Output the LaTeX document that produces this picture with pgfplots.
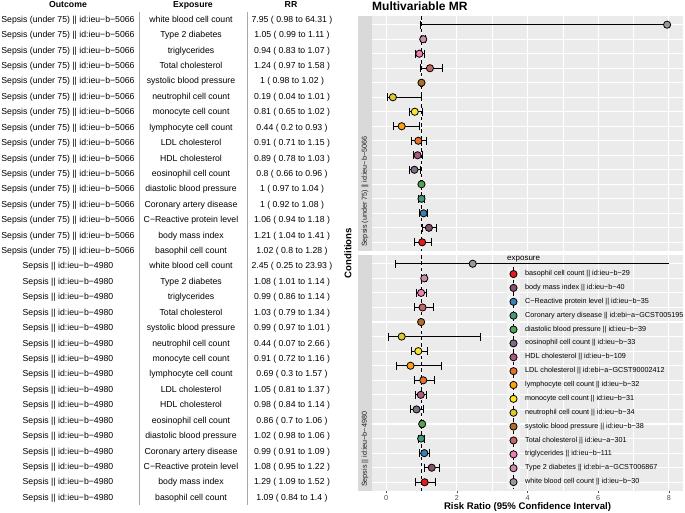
\documentclass[border=0pt]{standalone}
\usepackage{pgfplots}
\pgfplotsset{compat=1.18}
\usepackage{pgfplotstable}
\usepackage{fontspec}
\setmainfont{Liberation Sans}

\definecolor{panelbg}{HTML}{EBEBEB}
\definecolor{stripbg}{HTML}{D9D9D9}
\definecolor{keybg}{HTML}{F2F2F2}
\definecolor{gray30}{HTML}{4D4D4D}
\definecolor{gray10}{HTML}{1A1A1A}
\definecolor{sepgray}{HTML}{A8A8A8}

% row 0 = top of facet; c = colour index (legend order)
\pgfplotstableread{
row rr lo hi c
0 7.95 0.98 64.31 15
1 1.05 0.99 1.11 14
2 0.94 0.83 1.07 13
3 1.24 0.97 1.58 12
4 1.00 0.98 1.02 11
5 0.19 0.04 1.01 10
6 0.81 0.65 1.02 9
7 0.44 0.20 0.93 8
8 0.91 0.71 1.15 7
9 0.89 0.78 1.03 6
10 0.80 0.66 0.96 5
11 1.00 0.97 1.04 4
12 1.00 0.92 1.08 3
13 1.06 0.94 1.18 2
14 1.21 1.04 1.41 1
15 1.02 0.80 1.28 0
}\underS

\pgfplotstableread{
row rr lo hi c
0 2.45 0.25 23.93 15
1 1.08 1.01 1.14 14
2 0.99 0.86 1.14 13
3 1.03 0.79 1.34 12
4 0.99 0.97 1.01 11
5 0.44 0.07 2.66 10
6 0.91 0.72 1.16 9
7 0.69 0.30 1.57 8
8 1.05 0.81 1.37 7
9 0.98 0.84 1.14 6
10 0.86 0.70 1.06 5
11 1.02 0.98 1.06 4
12 0.99 0.91 1.09 3
13 1.08 0.95 1.22 2
14 1.29 1.09 1.52 1
15 1.09 0.84 1.40 0
}\allS

\pgfplotstableread{
row c
0 0
1 1
2 2
3 3
4 4
5 5
6 6
7 7
8 8
9 9
10 10
11 11
12 12
13 13
14 14
15 15
}\keys

\pgfplotsset{
  mrcolors/.style={
    colormap={mr}{rgb255=(228,26,28) rgb255=(136,79,111) rgb255=(56,129,177)
      rgb255=(68,155,118) rgb255=(87,162,86) rgb255=(127,110,133)
      rgb255=(173,88,130) rgb255=(228,114,43) rgb255=(255,161,14)
      rgb255=(255,229,41) rgb255=(225,199,47) rgb255=(178,109,41)
      rgb255=(198,103,100) rgb255=(242,126,181) rgb255=(203,140,173)
      rgb255=(153,153,153)},
    point meta min=0, point meta max=15,
  },
  facet/.style={
    scale only axis, width=311pt,
    xmin=-0.4, xmax=8.4, ymin=-0.6, ymax=15.6, y dir=reverse,
    axis background/.style={fill=panelbg},
    axis line style={draw=none},
    xtick={0,2,4,6,8}, minor xtick={1,3,5,7},
    ytick={0,...,15}, yticklabels={},
    grid=both,
    major grid style={white, line width=1.1pt},
    minor grid style={white, line width=0.55pt},
    y tick style={draw=none}, minor tick length=0pt,
    mrcolors,
  },
  ebars/.style={black, only marks, mark=none,
    error bars/.cd, x dir=both, x explicit,
    error bar style={black, line width=0.8pt},
    error mark=none,
    /pgfplots/.cd},
  caps/.style={black, only marks, mark=|, mark size=4pt,
    mark options={line width=0.8pt}},
  dots/.style={scatter, only marks, mark=*, point meta=explicit,
    mark size=3.6pt, mark options={line width=0.8pt},
    scatter/use mapped color={draw=black, fill=mapped color}},
  vdash/.style={black, line width=0.8pt, dash pattern=on 3.5pt off 2.8pt},
}

\tikzset{
  tbl/.style={font=\fontsize{8.7}{10}\selectfont, inner sep=0pt, text height=6.3pt, text depth=1.8pt},
  hdr/.style={tbl, font=\fontsize{8.7}{10}\selectfont\bfseries},
}

\begin{document}
\begin{tikzpicture}
\path[use as bounding box] (0,0) rectangle (685pt,-512pt);

% ---- left table ----
\node[hdr] at (68pt,-5.5pt) {Outcome};
\node[hdr] at (193pt,-5.5pt) {Exposure};
\node[hdr] at (291pt,-5.5pt) {RR};
\draw[sepgray, line width=0.8pt] (139pt,-12pt) -- (139pt,-505pt);
\draw[sepgray, line width=0.8pt] (247pt,-12pt) -- (247pt,-505pt);

\foreach \e/\r [count=\i from 0] in {
  white blood cell count/7.95 ( 0.98 to 64.31 ),
  Type 2 diabetes/1.05 ( 0.99 to 1.11 ),
  triglycerides/0.94 ( 0.83 to 1.07 ),
  Total cholesterol/1.24 ( 0.97 to 1.58 ),
  systolic blood pressure/1 ( 0.98 to 1.02 ),
  neutrophil cell count/0.19 ( 0.04 to 1.01 ),
  monocyte cell count/0.81 ( 0.65 to 1.02 ),
  lymphocyte cell count/0.44 ( 0.2 to 0.93 ),
  LDL cholesterol/0.91 ( 0.71 to 1.15 ),
  HDL cholesterol/0.89 ( 0.78 to 1.03 ),
  eosinophil cell count/0.8 ( 0.66 to 0.96 ),
  diastolic blood pressure/1 ( 0.97 to 1.04 ),
  Coronary artery disease/1 ( 0.92 to 1.08 ),
  C−Reactive protein level/1.06 ( 0.94 to 1.18 ),
  body mass index/1.21 ( 1.04 to 1.41 ),
  basophil cell count/1.02 ( 0.8 to 1.28 )} {
  \pgfmathsetmacro\yy{-(20+15.42*\i)}
  \node[tbl] at (68pt,\yy pt) {Sepsis (under 75) || id:ieu−b−5066};
  \node[tbl] at (191pt,\yy pt) {\e};
  \node[tbl] at (292pt,\yy pt) {\r};
}
\foreach \e/\r [count=\i from 16] in {
  white blood cell count/2.45 ( 0.25 to 23.93 ),
  Type 2 diabetes/1.08 ( 1.01 to 1.14 ),
  triglycerides/0.99 ( 0.86 to 1.14 ),
  Total cholesterol/1.03 ( 0.79 to 1.34 ),
  systolic blood pressure/0.99 ( 0.97 to 1.01 ),
  neutrophil cell count/0.44 ( 0.07 to 2.66 ),
  monocyte cell count/0.91 ( 0.72 to 1.16 ),
  lymphocyte cell count/0.69 ( 0.3 to 1.57 ),
  LDL cholesterol/1.05 ( 0.81 to 1.37 ),
  HDL cholesterol/0.98 ( 0.84 to 1.14 ),
  eosinophil cell count/0.86 ( 0.7 to 1.06 ),
  diastolic blood pressure/1.02 ( 0.98 to 1.06 ),
  Coronary artery disease/0.99 ( 0.91 to 1.09 ),
  C−Reactive protein level/1.08 ( 0.95 to 1.22 ),
  body mass index/1.29 ( 1.09 to 1.52 ),
  basophil cell count/1.09 ( 0.84 to 1.4 )} {
  \pgfmathsetmacro\yy{-(20+15.42*\i)}
  \node[tbl] at (68pt,\yy pt) {Sepsis || id:ieu−b−4980};
  \node[tbl] at (191pt,\yy pt) {\e};
  \node[tbl] at (292pt,\yy pt) {\r};
}

% ---- right: titles and strips ----
\node[anchor=base west, font=\fontsize{12}{14}\selectfont\bfseries, inner sep=0pt] at (372pt,-10.5pt) {Multivariable MR};
\node[rotate=90, font=\fontsize{9.6}{11}\selectfont\bfseries, inner sep=0pt] at (348pt,-253pt) {Conditions};
\node[font=\fontsize{9.6}{11}\selectfont\bfseries, inner sep=0pt] at (527.5pt,-507pt) {Risk Ratio (95\% Confidence Interval)};
\fill[stripbg] (358pt,-16pt) rectangle (372pt,-251pt);
\fill[stripbg] (358pt,-255pt) rectangle (372pt,-491pt);
\node[rotate=90, anchor=west, text=gray10, font=\fontsize{7.2}{8}\selectfont, inner sep=0pt] at (365pt,-247pt) {Sepsis (under 75) || id:ieu−b−5066};
\node[rotate=90, anchor=west, text=gray10, font=\fontsize{7.2}{8}\selectfont, inner sep=0pt] at (365pt,-487pt) {Sepsis || id:ieu−b−4980};

% ---- top facet ----
\begin{axis}[facet, at={(372pt,-16pt)}, anchor=north west, height=235pt,
  xticklabels={}, x tick style={draw=none}]
  \addplot[skip coords between index={0}{1}, ebars] table[x=rr, y=row,
    x error plus expr=\thisrow{hi}-\thisrow{rr},
    x error minus expr=\thisrow{rr}-\thisrow{lo}] {\underS};
  \addplot[black, line width=0.8pt] coordinates {(0.98,0) (8,0)};
  \addplot[caps] table[x=lo, y=row] {\underS};
  \addplot[caps, skip coords between index={0}{1}] table[x=hi, y=row] {\underS};
  \addplot[dots] table[x=rr, y=row, meta=c] {\underS};
  \addplot[vdash] coordinates {(1,-0.6) (1,15.6)};
\end{axis}

% ---- bottom facet ----
\begin{axis}[facet, at={(372pt,-255pt)}, anchor=north west, height=236pt,
  xtick pos=bottom, tick align=outside, major tick length=2.4pt,
  x tick style={draw=gray30, line width=0.5pt},
  /pgf/number format/assume math mode=true,
  xticklabel style={font=\fontsize{7.2}{8}\selectfont, text=gray30, inner sep=1.5pt}]
  \addplot[skip coords between index={0}{1}, ebars] table[x=rr, y=row,
    x error plus expr=\thisrow{hi}-\thisrow{rr},
    x error minus expr=\thisrow{rr}-\thisrow{lo}] {\allS};
  \addplot[black, line width=0.8pt] coordinates {(0.25,0) (8,0)};
  \addplot[caps] table[x=lo, y=row] {\allS};
  \addplot[caps, skip coords between index={0}{1}] table[x=hi, y=row] {\allS};
  \addplot[dots] table[x=rr, y=row, meta=c] {\allS};
  \addplot[vdash] coordinates {(1,-0.6) (1,15.6)};
\end{axis}

% ---- legend (drawn as a small axis) ----
\node[anchor=base west, font=\fontsize{8}{9}\selectfont, inner sep=0pt] at (507pt,-260.5pt) {exposure};
\begin{axis}[at={(507pt,-267.1pt)}, anchor=north west, scale only axis,
  width=13pt, height=221.9pt, xmin=-1, xmax=1, ymin=-0.5, ymax=15.5, y dir=reverse,
  axis background/.style={fill=keybg}, axis line style={draw=none},
  xtick=\empty, ytick={0,...,15}, yticklabel pos=right, tick style={draw=none},
  major tick length=0pt, typeset ticklabels with strut,
  yticklabel style={anchor=west, inner sep=0pt, xshift=5pt, font=\fontsize{7.2}{8}\selectfont},
  yticklabels={basophil cell count || id:ieu−b−29, body mass index || id:ieu−b−40,
    C−Reactive protein level || id:ieu−b−35, Coronary artery disease || id:ebi−a−GCST005195,
    diastolic blood pressure || id:ieu−b−39, eosinophil cell count || id:ieu−b−33,
    HDL cholesterol || id:ieu−b−109, LDL cholesterol || id:ebi−a−GCST90002412,
    lymphocyte cell count || id:ieu−b−32, monocyte cell count || id:ieu−b−31,
    neutrophil cell count || id:ieu−b−34, systolic blood pressure || id:ieu−b−38,
    Total cholesterol || id:ieu−a−301, triglycerides || id:ieu−b−111,
    Type 2 diabetes || id:ebi−a−GCST006867, white blood cell count || id:ieu−b−30},
  mrcolors]
  \addplot[vdash] coordinates {(0,-0.5) (0,15.5)};
  \addplot[dots] table[x expr=0, y=row, meta=c] {\keys};
\end{axis}
\end{tikzpicture}
\end{document}
